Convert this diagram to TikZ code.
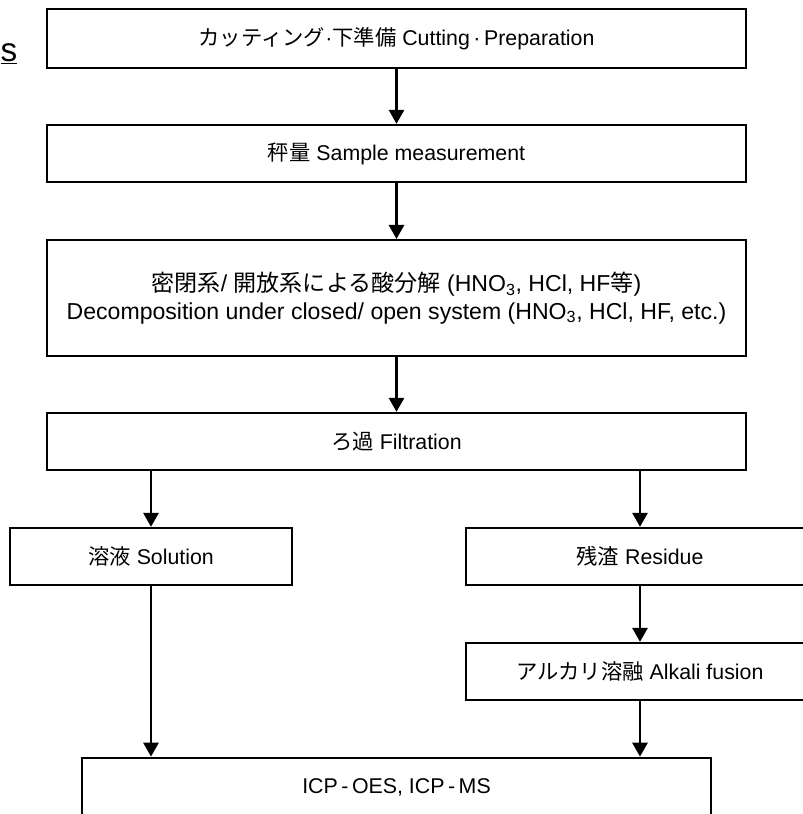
\documentclass[tikz,border=0pt]{standalone}
\usepackage{fontspec}
\setmainfont{Liberation Sans}
\newfontfamily\jp{Noto Sans CJK JP}
\usetikzlibrary{arrows.meta}

\begin{document}
\begin{tikzpicture}[->,>={Triangle[length=10.5pt,width=11.5pt]},x=0.75pt,y=-0.75pt,
	line width=1.6pt,font=\fontsize{16}{20}\selectfont]
	\tikzstyle{stepbox}=[draw,rectangle,inner sep=0pt,align=center,minimum height=43pt]
	\tikzstyle{wide}=[stepbox,minimum width=524pt]
	
	\useasboundingbox (0,0) rectangle (803,814);
	\clip (0,0) rectangle (803,814);
	
	\node[font=\fontsize{25}{27}\selectfont] (title) at (9,54) {\underline{s}};
	
	\node[wide,minimum height=44pt] (cut)  at (396.5,38.5) {{\jp カッティング}·{\jp 下準備} Cutting\,·\,Preparation};
	\node[wide]                     (meas) at (396.5,153.5) {{\jp 秤量} Sample measurement};
	\node[wide,minimum height=87pt,font=\fontsize{17.3}{20.5}\selectfont] (dec) at (396.5,298)
		{{\jp 密閉系}/ {\jp 開放系による酸分解} (HNO\textsubscript{3}, HCl, HF{\jp 等})\\
		Decomposition under closed/ open system (HNO\textsubscript{3}, HCl, HF, etc.)};
	\node[wide]                     (filt) at (396.5,441.5) {{\jp ろ過} Filtration};
	\node[stepbox,minimum width=211.5pt] (sol) at (151,556.5) {{\jp 溶液} Solution};
	\node[stepbox,minimum width=261pt]   (res) at (640,556.5) {{\jp 残渣} Residue};
	\node[stepbox,minimum width=261pt]   (alk) at (640,671.5) {{\jp アルカリ溶融} Alkali fusion};
	\node[stepbox,minimum width=472pt,minimum height=44pt] (icp) at (396.5,787) {ICP\,-\,OES, ICP\,-\,MS};
	
	\path (cut) edge (meas);
	\path (meas) edge (dec);
	\path (dec) edge (filt);
	
	\draw (sol.north |- filt.south) -- (sol.north);
	\draw (res.north |- filt.south) -- (res.north);
	\path (res) edge (alk);
	
	\draw (sol.south) -- (sol.south |- icp.north);
	\draw (alk.south) -- (alk.south |- icp.north);
	
\end{tikzpicture}
\end{document}
